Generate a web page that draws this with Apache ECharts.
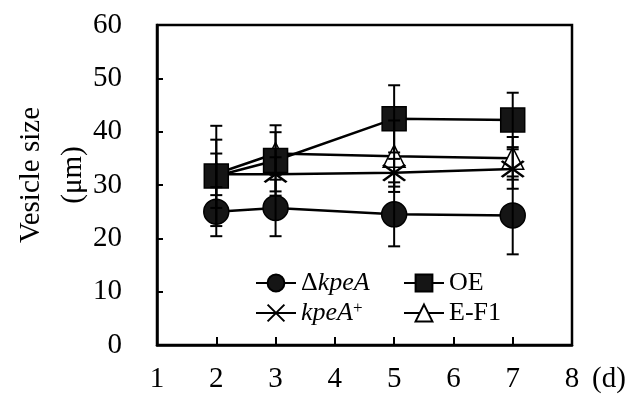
<!DOCTYPE html>
<html>
<head>
<meta charset="utf-8">
<script src="https://cdn.jsdelivr.net/npm/echarts@6/dist/echarts.min.js"></script>
<style>
  html, body { margin: 0; padding: 0; background: #fff; }
  #chart { width: 640px; height: 406px; }
</style>
</head>
<body>
<div id="chart"></div>
<script>
// days of sampling
const days = [2, 3, 5, 7]

// mean vesicle size (um) and error (+/-) per strain
const deltaMean = [25.0, 25.7, 24.5, 24.3]
const deltaErr = [4.6, 5.3, 6.0, 7.3]
const oeMean = [31.7, 34.6, 42.4, 42.2]
const oeErr = [9.4, 6.6, 6.3, 5.1]
const plusMean = [32.0, 32.0, 32.3, 33.0]
const plusErr = [3.9, 3.2, 2.6, 3.7]
const ef1Mean = [32.1, 35.9, 35.4, 35.0]
const ef1Err = [6.4, 4.0, 6.7, 4.0]

const names = ['ΔkpeA', 'OE', 'kpeA+', 'E-F1']

const font = "'Liberation Serif', 'Times New Roman', serif"
const chart = echarts.init(document.getElementById('chart'))

const pts = (means) => days.map((d, i) => [d, means[i]])
const bars = (means, errs) => days.map((d, i) => [d, means[i] - errs[i], means[i] + errs[i]])

// vertical error bar with caps
function renderErr(params, api) {
  const x = api.value(0)
  const lo = api.coord([x, api.value(1)])
  const hi = api.coord([x, api.value(2)])
  const cap = 6
  const style = { stroke: '#000', lineWidth: 2 }
  return {
    type: 'group',
    children: [
      { type: 'line', shape: { x1: lo[0], y1: lo[1], x2: hi[0], y2: hi[1] }, style },
      { type: 'line', shape: { x1: lo[0] - cap, y1: lo[1], x2: lo[0] + cap, y2: lo[1] }, style },
      { type: 'line', shape: { x1: hi[0] - cap, y1: hi[1], x2: hi[0] + cap, y2: hi[1] }, style },
    ],
  }
}

function lineSeries(name, means, symbol, size, fill, z) {
  return {
    name: name,
    type: 'line',
    data: pts(means),
    symbol: symbol,
    symbolSize: size,
    showSymbol: true,
    lineStyle: { color: '#000', width: 2.5 },
    itemStyle: { color: fill, borderColor: '#000', borderWidth: fill === 'none' ? 2.5 : 1.5, opacity: 1 },
    z: z,
    animation: false,
  }
}

function errSeries(means, errs) {
  return {
    type: 'custom',
    data: bars(means, errs),
    renderItem: renderErr,
    z: 8,
    silent: true,
    animation: false,
  }
}

const legendText = {
  fontFamily: font,
  fontSize: 26,
  color: '#000',
  lineHeight: 26,
  rich: {
    n: { fontFamily: font, fontSize: 26, color: '#000' },
    i: { fontFamily: font, fontSize: 26, fontStyle: 'italic', color: '#000' },
    sup: { fontFamily: font, fontSize: 17, color: '#000', lineHeight: 12, verticalAlign: 'top' },
  },
}

function legendFmt(name) {
  if (name === 'ΔkpeA') return '{n|Δ}{i|kpeA}'
  if (name === 'kpeA+') return '{i|kpeA}{sup|+}'
  return '{n|' + name + '}'
}

const option = {
  backgroundColor: '#fff',
  animation: false,
  grid: {
    left: 157, right: 68, top: 25, bottom: 61,
    outerBoundsMode: 'none',
    containLabel: false,
    show: true, borderColor: '#000', borderWidth: 2.5,
  },
  xAxis: {
    type: 'value',
    min: 1, max: 8, interval: 1,
    name: '(d)',
    nameLocation: 'end',
    nameGap: 20,
    nameMoveOverlap: false,
    nameTextStyle: { fontFamily: font, fontSize: 29, color: '#000', verticalAlign: 'top', padding: [20, 0, 0, 0] },
    axisLine: { show: true, onZero: false, lineStyle: { color: '#000', width: 2.5 } },
    axisTick: { show: true, inside: true, length: 8, lineStyle: { color: '#000', width: 2 } },
    axisLabel: { fontFamily: font, fontSize: 29, color: '#000', margin: 20 },
    splitLine: { show: false },
  },
  yAxis: {
    type: 'value',
    min: 0, max: 60, interval: 10,
    name: 'Vesicle size\n(μm)',
    nameLocation: 'middle',
    nameRotate: 90,
    nameGap: 63,
    nameMoveOverlap: false,
    nameTextStyle: { fontFamily: font, fontSize: 29, color: '#000', lineHeight: 42, padding: [0, 0, 0, 20] },
    axisLine: { show: true, lineStyle: { color: '#000', width: 2.5 } },
    axisTick: { show: true, inside: true, length: 6, lineStyle: { color: '#000', width: 2 } },
    axisLabel: { fontFamily: font, fontSize: 29, color: '#000', margin: 35 },
    splitLine: { show: false },
  },
  legend: [
    {
      data: [names[0], names[2]],
      orient: 'vertical',
      left: 250, top: 265,
      itemWidth: 40, itemHeight: 21, itemGap: 4,
      selectedMode: false,
      formatter: legendFmt,
      textStyle: legendText,
    },
    {
      data: [names[1], names[3]],
      orient: 'vertical',
      left: 398, top: 265,
      itemWidth: 40, itemHeight: 21, itemGap: 4,
      selectedMode: false,
      formatter: legendFmt,
      textStyle: legendText,
    },
  ],
  series: [
    lineSeries(names[3], ef1Mean, 'triangle', 22, '#fff', 3),
    lineSeries(names[2], plusMean, 'path://M0,0L20,14M20,0L0,14', [22, 16], 'none', 4),
    lineSeries(names[1], oeMean, 'rect', 24, '#151515', 5),
    lineSeries(names[0], deltaMean, 'circle', 25, '#151515', 6),
    errSeries(deltaMean, deltaErr),
    errSeries(oeMean, oeErr),
    errSeries(plusMean, plusErr),
    errSeries(ef1Mean, ef1Err),
  ],
}

chart.setOption(option)
</script>
</body>
</html>
